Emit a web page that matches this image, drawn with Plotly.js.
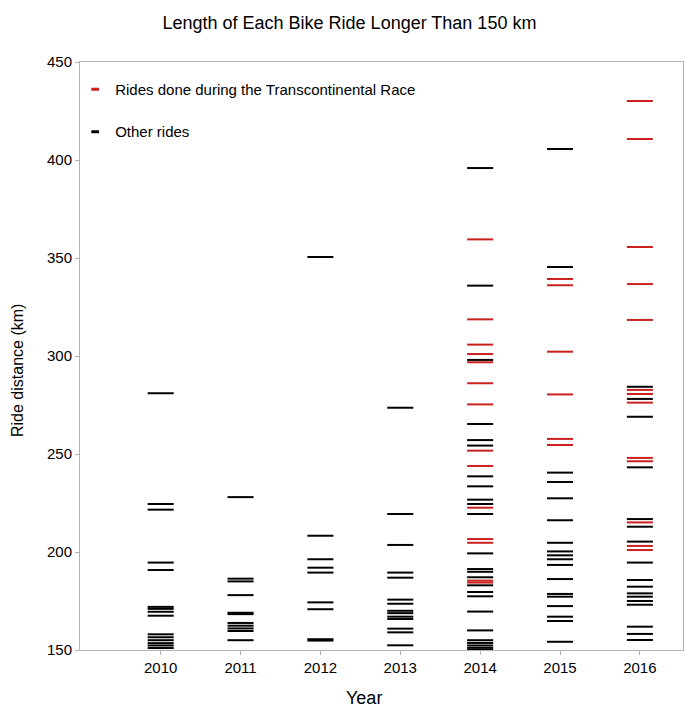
<!DOCTYPE html>
<html>
<head>
<meta charset="utf-8">
<script src="https://cdn.plot.ly/plotly-3.0.1.min.js"></script>
<style>html,body{margin:0;padding:0;background:#fff;}#chart{width:692px;height:719px;}</style>
</head>
<body>
<div id="chart"></div>
<script>
// Year categories
const years = [2010, 2011, 2012, 2013, 2014, 2015, 2016];
const yTicks = [150, 200, 250, 300, 350, 400, 450];

// Other rides (km), per year
const other2010 = [281, 224.5, 221.6, 194.6, 190.8, 172, 171, 169.5, 167.5, 158, 156.5, 155, 153.5, 152.3, 151];
const other2011 = [228, 186.4, 185, 178, 169, 168.3, 163.8, 162.4, 161, 159.7, 155];
const other2012 = [350.5, 208.3, 196.3, 192, 189.5, 174.3, 170.8, 155.5, 154.8];
const other2013 = [273.6, 219.4, 203.6, 189.5, 186.9, 175.7, 173.6, 170, 168.8, 167, 165.8, 160.9, 159, 152.4];
const other2014 = [395.9, 335.9, 298, 265.3, 257.1, 254.3, 238.6, 233.5, 226.7, 224.5, 219.4, 199.3, 191.3, 189.9, 187.1, 183, 179.6, 177.4, 169.6, 160, 155, 153.6, 152.3, 151.1, 150.2];
const other2015 = [405.6, 345.4, 240.5, 235.7, 227.4, 216.2, 204.7, 200.3, 198.3, 196.3, 193.4, 186.2, 178.6, 177.2, 172.4, 167, 164.8, 154.2];
const other2016 = [284.3, 278.1, 269, 243.2, 216.8, 212.9, 205.3, 194.6, 185.7, 182.3, 178.9, 177.2, 175, 173.1, 161.9, 158.2, 155.1];

// Rides done during the Transcontinental Race (km), per year
const race2014 = [359.5, 318.7, 305.8, 301, 296.8, 286.1, 275.3, 251.7, 243.9, 222.6, 206.6, 204.7, 185.4, 184.4];
const race2015 = [339.3, 336.1, 302.2, 280.4, 257.7, 254.6];
const race2016 = [430.1, 410.7, 355.6, 336.7, 318.4, 282.7, 280.6, 276.2, 248, 246.3, 215.1, 203.1, 201];

const seriesNames = ['Rides done during the Transcontinental Race', 'Other rides'];

const otherByYear = [other2010, other2011, other2012, other2013, other2014, other2015, other2016];
const raceByYear = [[], [], [], [], race2014, race2015, race2016];

function flatten(groups) {
  const xs = [], ys = [];
  groups.forEach((vals, i) => vals.forEach(v => { xs.push(years[i]); ys.push(v); }));
  return {xs, ys};
}

const o = flatten(otherByYear);
const r = flatten(raceByYear);
const RED = '#c9211e';
const BLACK = '#000000';

function dashTrace(d, color, name, group) {
  return {
    type: 'scatter', mode: 'markers', x: d.xs, y: d.ys, name: name,
    legendgroup: group, showlegend: false, cliponaxis: false,
    marker: {symbol: 'line-ew', size: 18.6, color: color, line: {color: color, width: 2}},
    hoverinfo: 'x+y'
  };
}
function legendTrace(color, name, group) {
  return {
    type: 'scatter', mode: 'markers', x: [null], y: [null], name: name,
    legendgroup: group, showlegend: true,
    marker: {symbol: 'line-ew', size: 5.5, color: color, line: {color: color, width: 3}}
  };
}

const data = [
  dashTrace(r, RED, seriesNames[0], 'a'),
  dashTrace(o, BLACK, seriesNames[1], 'b'),
  legendTrace(RED, seriesNames[0], 'a'),
  legendTrace(BLACK, seriesNames[1], 'b')
];

const FONT = 'Liberation Sans, Arial, sans-serif';

const layout = {
  width: 692, height: 719,
  margin: {l: 80, r: 9, t: 62, b: 69, pad: 0},
  paper_bgcolor: '#ffffff', plot_bgcolor: '#ffffff',
  font: {family: FONT, size: 15, color: '#000000'},
  title: {text: 'Length of Each Bike Ride Longer Than 150 km', font: {family: FONT, size: 18, color: '#000'},
          x: 0.505, xref: 'container', xanchor: 'center', y: 0.969, yref: 'container', yanchor: 'middle'},
  showlegend: true,
  legend: {x: -0.008, y: 0.9815, xanchor: 'left', yanchor: 'top', bgcolor: 'rgba(0,0,0,0)',
           traceorder: 'grouped', tracegroupgap: 20,
           font: {family: FONT, size: 15, color: '#000'}},
  xaxis: {
    range: [2008.99, 2016.54], tickmode: 'array', tickvals: years, ticktext: years.map(String),
    showgrid: false, zeroline: false, showline: true, linecolor: '#b3b3b3', linewidth: 1, mirror: true,
    ticks: 'outside', ticklen: 4, tickcolor: '#b3b3b3',
    tickfont: {family: FONT, size: 15, color: '#000'}
  },
  yaxis: {
    range: [150, 450], tickmode: 'array', tickvals: yTicks,
    showgrid: false, zeroline: false, showline: true, linecolor: '#b3b3b3', linewidth: 1, mirror: true,
    ticks: 'outside', ticklen: 4, tickcolor: '#b3b3b3',
    tickfont: {family: FONT, size: 15, color: '#000'}
  },
  annotations: [
    {text: 'Year', xref: 'paper', yref: 'paper', x: (364 - 80) / 603, y: -(698 - 650) / 588,
     xanchor: 'center', yanchor: 'middle', showarrow: false, font: {family: FONT, size: 18, color: '#000'}},
    {text: 'Ride distance (km)', xref: 'paper', yref: 'paper', x: (17 - 80) / 603, y: (650 - 371) / 588,
     xanchor: 'center', yanchor: 'middle', textangle: -90, showarrow: false, font: {family: FONT, size: 16, color: '#000'}}
  ]
};

Plotly.newPlot('chart', data, layout, {displayModeBar: false, staticPlot: true});
</script>
</body>
</html>
